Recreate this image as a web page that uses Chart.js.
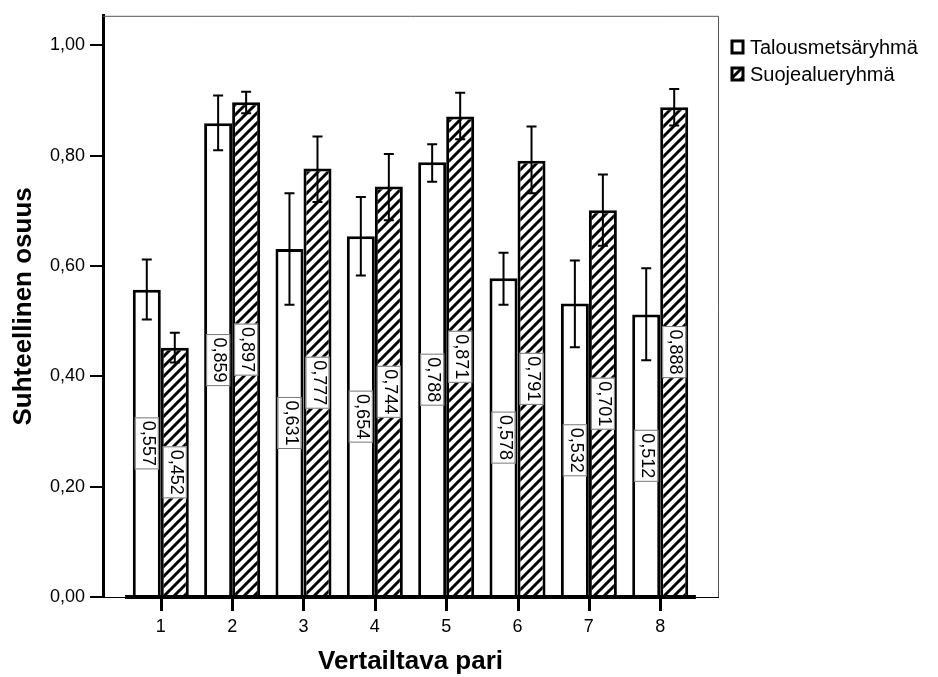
<!DOCTYPE html>
<html>
<head>
<meta charset="utf-8">
<script src="https://cdn.jsdelivr.net/npm/chart.js@4.4.1/dist/chart.umd.min.js"></script>
<style>
  html, body { margin: 0; padding: 0; background: #fff; }
  #wrap { width: 938px; height: 677px; }
</style>
</head>
<body>
<div id="wrap"><canvas id="pairChart" width="938" height="677"></canvas></div>
<script>
const pairs = [1, 2, 3, 4, 5, 6, 7, 8];
const seriesNames = ["Talousmetsäryhmä", "Suojealueryhmä"];

const talousValues = [0.557, 0.859, 0.631, 0.654, 0.788, 0.578, 0.532, 0.512];
const talousLow = [0.503, 0.810, 0.530, 0.583, 0.753, 0.530, 0.453, 0.429];
const talousHigh = [0.612, 0.909, 0.732, 0.725, 0.821, 0.624, 0.610, 0.596];

const suojeluValues = [0.452, 0.897, 0.777, 0.744, 0.871, 0.791, 0.701, 0.888];
const suojeluLow = [0.425, 0.877, 0.716, 0.683, 0.830, 0.732, 0.637, 0.855];
const suojeluHigh = [0.479, 0.916, 0.835, 0.803, 0.914, 0.853, 0.766, 0.921];

const yTicks = [0, 0.2, 0.4, 0.6, 0.8, 1.0];

const FONT = "'Liberation Sans', Arial, sans-serif";

const fmt = (v) => v.toFixed(2).replace(".", ",");
const fmt3 = (v) => v.toFixed(3).replace(".", ",");

// diagonal hatch pattern like the SPSS fill
const makeHatch = () => {
  const c = document.createElement("canvas");
  c.width = 10;
  c.height = 10;
  const g = c.getContext("2d");
  g.fillStyle = "#fff";
  g.fillRect(0, 0, 10, 10);
  g.strokeStyle = "#000";
  g.lineWidth = 3;
  g.beginPath();
  g.moveTo(-5, 5); g.lineTo(5, -5);
  g.moveTo(0, 10); g.lineTo(10, 0);
  g.moveTo(5, 15); g.lineTo(15, 5);
  g.stroke();
  return g.createPattern(c, "repeat");
};
const hatch = makeHatch();

const errors = [
  { low: talousLow, high: talousHigh },
  { low: suojeluLow, high: suojeluHigh },
];

const frameAndErrors = {
  id: "frameAndErrors",
  afterDatasetsDraw(chart) {
    const ctx = chart.ctx;
    const { left, right, top, bottom } = chart.chartArea;
    const y = chart.scales.y;
    const x = chart.scales.x;

    ctx.save();
    // thin top / right frame
    ctx.strokeStyle = "#555";
    ctx.lineWidth = 1;
    ctx.beginPath();
    ctx.moveTo(left, top + 0.5);
    ctx.lineTo(right + 0.5, top + 0.5);
    ctx.lineTo(right + 0.5, bottom);
    ctx.stroke();

    // thick baseline under the bars
    ctx.strokeStyle = "#000";
    ctx.lineWidth = 4;
    ctx.beginPath();
    ctx.moveTo(x.getPixelForValue(0.5), bottom);
    ctx.lineTo(x.getPixelForValue(8.5), bottom);
    ctx.stroke();

    // category tick marks below the baseline
    ctx.fillStyle = "#000";
    pairs.forEach((p) => {
      const px = Math.round(x.getPixelForValue(p));
      ctx.fillRect(px - 1, bottom, 3, 14);
    });

    // error bars
    ctx.lineWidth = 2;
    chart.data.datasets.forEach((ds, di) => {
      const meta = chart.getDatasetMeta(di);
      meta.data.forEach((bar, i) => {
        const yl = y.getPixelForValue(errors[di].low[i]);
        const yh = y.getPixelForValue(errors[di].high[i]);
        ctx.beginPath();
        ctx.moveTo(bar.x, yl);
        ctx.lineTo(bar.x, yh);
        ctx.moveTo(bar.x - 5, yl);
        ctx.lineTo(bar.x + 5, yl);
        ctx.moveTo(bar.x - 5, yh);
        ctx.lineTo(bar.x + 5, yh);
        ctx.stroke();
      });
    });

    // rotated value labels at half height
    ctx.font = "18px " + FONT;
    ctx.textAlign = "center";
    ctx.textBaseline = "middle";
    chart.data.datasets.forEach((ds, di) => {
      const meta = chart.getDatasetMeta(di);
      meta.data.forEach((bar, i) => {
        const v = ds.data[i].y;
        const cy = y.getPixelForValue(v / 2);
        const txt = fmt3(v);
        const tw = ctx.measureText(txt).width;
        const bh = tw + 7;
        const bw = 24;
        ctx.fillStyle = "#fff";
        ctx.fillRect(bar.x - bw / 2, cy - bh / 2, bw, bh);
        ctx.strokeStyle = "#777";
        ctx.lineWidth = 1;
        ctx.strokeRect(bar.x - bw / 2 + 0.5, cy - bh / 2 + 0.5, bw - 1, bh - 1);
        ctx.save();
        ctx.translate(bar.x + 1, cy);
        ctx.rotate(Math.PI / 2);
        ctx.fillStyle = "#000";
        ctx.fillText(txt, 0, 0);
        ctx.restore();
      });
    });

    // legend
    const fills = ["#fff", hatch];
    const legendY = [47, 74];
    ctx.font = "20px " + FONT;
    ctx.textAlign = "left";
    ctx.textBaseline = "middle";
    seriesNames.forEach((name, k) => {
      const cy = legendY[k];
      ctx.fillStyle = fills[k];
      ctx.fillRect(732, cy - 6, 11, 12);
      ctx.strokeStyle = "#000";
      ctx.lineWidth = 3;
      ctx.strokeRect(732, cy - 6, 11, 12);
      ctx.fillStyle = "#000";
      ctx.fillText(name, 750, cy + 1);
    });
    ctx.restore();
  },
};

const ctx = document.getElementById("pairChart");
new Chart(ctx, {
  type: "bar",
  data: {
    datasets: [
      {
        label: seriesNames[0],
        data: pairs.map((p, i) => ({ x: p, y: talousValues[i] })),
        backgroundColor: "#fff",
        borderColor: "#000",
        borderWidth: 3,
      },
      {
        label: seriesNames[1],
        data: pairs.map((p, i) => ({ x: p, y: suojeluValues[i] })),
        backgroundColor: hatch,
        borderColor: "#000",
        borderWidth: 3,
      },
    ],
  },
  options: {
    responsive: false,
    animation: false,
    devicePixelRatio: 1,
    barPercentage: 1,
    categoryPercentage: 0.785,
    layout: {
      padding: { left: 8, right: 220, top: 8, bottom: 0 },
    },
    plugins: {
      legend: { display: false },
      tooltip: { enabled: false },
    },
    scales: {
      x: {
        type: "linear",
        offset: false,
        min: 0.19,
        max: 8.81,
        afterBuildTicks: (scale) => {
          scale.ticks = pairs.map((v) => ({ value: v }));
        },
        afterFit: (scale) => {
          scale.height = 80;
        },
        grid: {
          offset: false,
          drawOnChartArea: false,
          drawTicks: true,
          tickLength: 12,
          color: "#000",
          lineWidth: 2,
        },
        border: { display: true, color: "#000", width: 1 },
        ticks: {
          color: "#000",
          font: { family: FONT, size: 18 },
          padding: 7,
          callback: (v) => String(v),
        },
        title: {
          display: true,
          text: "Vertailtava pari",
          color: "#000",
          font: { family: FONT, size: 26, weight: "bold" },
          padding: { top: 4, bottom: 0 },
        },
      },
      y: {
        min: 0,
        max: 1.0537,
        afterBuildTicks: (scale) => {
          scale.ticks = yTicks.map((v) => ({ value: v }));
        },
        afterFit: (scale) => {
          scale.width = 95;
        },
        grid: {
          drawOnChartArea: false,
          drawTicks: true,
          tickLength: 13,
          color: "#000",
          lineWidth: 2,
        },
        border: { display: true, color: "#000", width: 3 },
        ticks: {
          color: "#000",
          font: { family: FONT, size: 18 },
          padding: 5,
          callback: (v) => fmt(v),
        },
        title: {
          display: true,
          text: "Suhteellinen osuus",
          color: "#000",
          font: { family: FONT, size: 26, weight: "bold" },
          padding: { top: 0, bottom: 0 },
        },
      },
    },
  },
  plugins: [frameAndErrors],
});
</script>
</body>
</html>
